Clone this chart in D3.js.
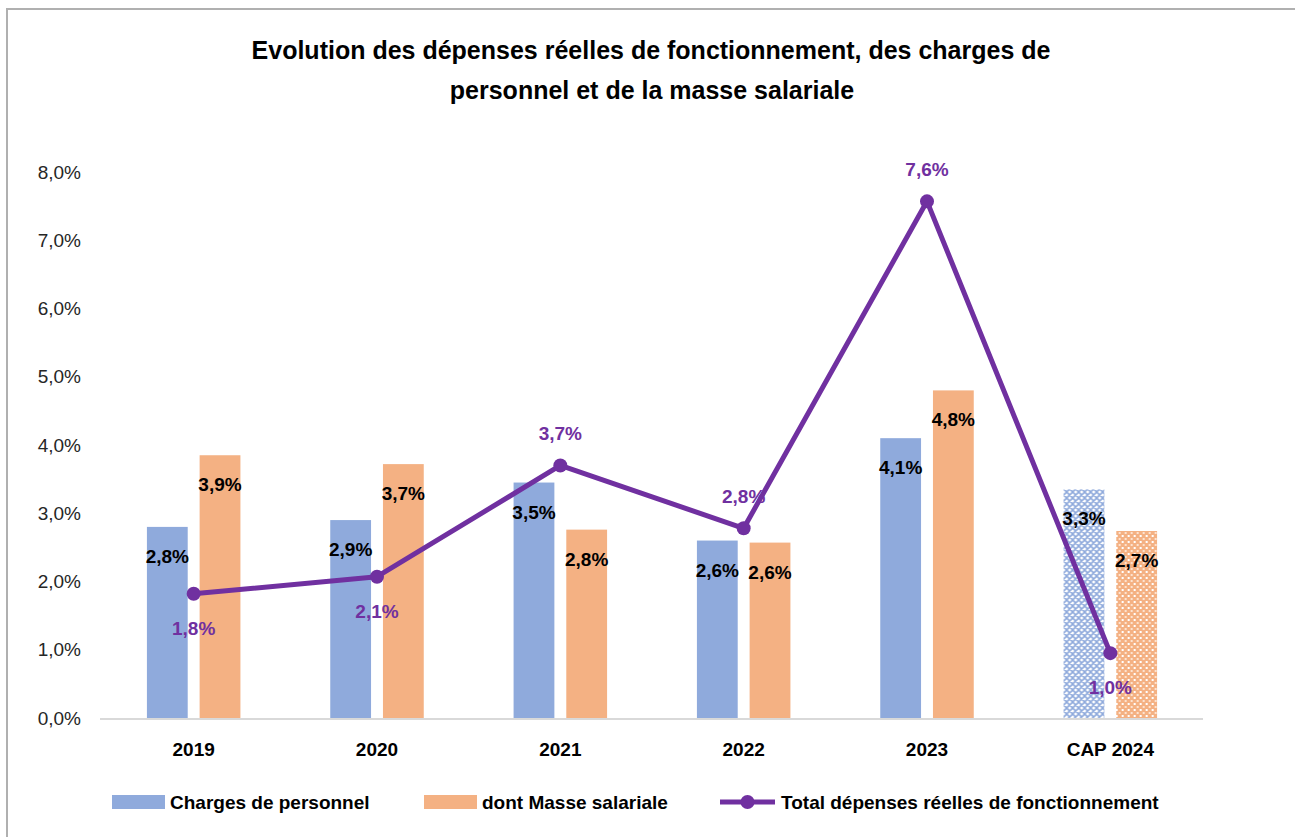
<!DOCTYPE html>
<html>
<head>
<meta charset="utf-8">
<script src="https://cdn.jsdelivr.net/npm/d3@7"></script>
<style>
  body { margin: 0; background: #fff; }
  svg { display: block; font-family: "Liberation Sans", Arial, sans-serif; }
</style>
</head>
<body>
<div id="chart"></div>
<script>
// data
const categories = ['2019', '2020', '2021', '2022', '2023', 'CAP 2024'];
const chargesPersonnel = [2.8, 2.9, 3.45, 2.6, 4.1, 3.35];
const masseSalariale = [3.85, 3.72, 2.76, 2.57, 4.8, 2.74];
const totalDepenses = [1.82, 2.07, 3.7, 2.78, 7.57, 0.95];
const chargesLabels = ['2,8%', '2,9%', '3,5%', '2,6%', '4,1%', '3,3%'];
const masseLabels = ['3,9%', '3,7%', '2,8%', '2,6%', '4,8%', '2,7%'];
const totalLabels = ['1,8%', '2,1%', '3,7%', '2,8%', '7,6%', '1,0%'];
const totalLabelAbove = [false, false, true, true, true, false];
const yTicks = [0, 1, 2, 3, 4, 5, 6, 7, 8];
const seriesNames = ['Charges de personnel', 'dont Masse salariale', 'Total dépenses réelles de fonctionnement'];

const width = 1295;
const height = 837;
const blue = '#8FAADC';
const orange = '#F4B183';
const purple = '#7030A0';
const labelSize = '19px';

const frLocale = d3.formatLocale({ decimal: ',', thousands: ' ', grouping: [3], currency: ['', ' €'] });
const fmt = frLocale.format('.1f');

const svg = d3.select('#chart')
  .append('svg')
  .attr('width', width)
  .attr('height', height);

// patterns for the forecast year
const defs = svg.append('defs');
const pBlue = defs.append('pattern')
  .attr('id', 'hatchBlue')
  .attr('patternUnits', 'userSpaceOnUse')
  .attr('width', 6)
  .attr('height', 6);
pBlue.append('rect').attr('width', 6).attr('height', 6).attr('fill', '#fff');
pBlue.append('path')
  .attr('d', 'M0,0 L6,6 M6,0 L0,6 M-1,5 L1,7 M5,-1 L7,1 M-1,1 L1,-1 M5,7 L7,5')
  .attr('stroke', blue)
  .attr('stroke-width', 1.6);

const pOrange = defs.append('pattern')
  .attr('id', 'dotOrange')
  .attr('patternUnits', 'userSpaceOnUse')
  .attr('width', 6)
  .attr('height', 6);
pOrange.append('rect').attr('width', 6).attr('height', 6).attr('fill', orange);
pOrange.append('rect').attr('x', 1).attr('y', 1).attr('width', 2).attr('height', 2).attr('fill', '#fff');
pOrange.append('rect').attr('x', 4).attr('y', 4).attr('width', 2).attr('height', 2).attr('fill', '#fde3d0');

// frame
svg.append('path')
  .attr('d', `M7,${height} L7,9 L${width},9`)
  .attr('fill', 'none')
  .attr('stroke', '#b0b0b0')
  .attr('stroke-width', 2);

// title
const title = svg.append('text')
  .attr('text-anchor', 'middle')
  .attr('font-weight', 'bold')
  .attr('font-size', '25px')
  .attr('fill', '#000');
title.append('tspan').attr('x', 651).attr('y', 59).text('Evolution des dépenses réelles de fonctionnement, des charges de');
title.append('tspan').attr('x', 652).attr('y', 99).text('personnel et de la masse salariale');

// scales
const x0 = d3.scaleBand()
  .domain(categories)
  .range([102, 1202]);

const x1 = d3.scaleBand()
  .domain(['charges', 'masse'])
  .range([x0.bandwidth() * 0.245, x0.bandwidth() * 0.755])
  .paddingInner(0.226);

const y = d3.scaleLinear()
  .domain([0, 8])
  .range([718, 172]);

// y axis labels
const yAxis = svg.append('g')
  .attr('transform', 'translate(81,0)')
  .call(d3.axisLeft(y).tickValues(yTicks).tickSize(0).tickPadding(0).tickFormat(d => fmt(d) + '%'));
yAxis.select('.domain').remove();
yAxis.selectAll('text')
  .attr('font-family', '"Liberation Sans", Arial, sans-serif')
  .attr('font-size', labelSize)
  .attr('fill', '#262626');

// baseline
svg.append('line')
  .attr('x1', 100)
  .attr('x2', 1203)
  .attr('y1', y(0) + 1)
  .attr('y2', y(0) + 1)
  .attr('stroke', '#d9d9d9')
  .attr('stroke-width', 2);

// x axis labels
const xAxis = svg.append('g')
  .attr('transform', `translate(0,${y(0)})`)
  .call(d3.axisBottom(x0).tickSize(0).tickPadding(25));
xAxis.select('.domain').remove();
xAxis.selectAll('text')
  .attr('font-family', '"Liberation Sans", Arial, sans-serif')
  .attr('font-size', labelSize)
  .attr('font-weight', 'bold')
  .attr('fill', '#000');

const last = categories.length - 1;

// bars
const groups = svg.append('g')
  .selectAll('g')
  .data(categories)
  .join('g')
  .attr('transform', d => `translate(${x0(d)},0)`);

groups.append('rect')
  .attr('x', x1('charges'))
  .attr('width', x1.bandwidth())
  .attr('y', (d, i) => y(chargesPersonnel[i]))
  .attr('height', (d, i) => y(0) - y(chargesPersonnel[i]))
  .attr('fill', (d, i) => i === last ? 'url(#hatchBlue)' : blue);

groups.append('rect')
  .attr('x', x1('masse'))
  .attr('width', x1.bandwidth())
  .attr('y', (d, i) => y(masseSalariale[i]))
  .attr('height', (d, i) => y(0) - y(masseSalariale[i]))
  .attr('fill', (d, i) => i === last ? 'url(#dotOrange)' : orange);

// bar labels
groups.append('text')
  .attr('x', x1('charges') + x1.bandwidth() / 2)
  .attr('y', (d, i) => y(chargesPersonnel[i]) + 36)
  .attr('text-anchor', 'middle')
  .attr('font-weight', 'bold')
  .attr('font-size', labelSize)
  .attr('fill', '#000')
  .text((d, i) => chargesLabels[i]);

groups.append('text')
  .attr('x', x1('masse') + x1.bandwidth() / 2)
  .attr('y', (d, i) => y(masseSalariale[i]) + 36)
  .attr('text-anchor', 'middle')
  .attr('font-weight', 'bold')
  .attr('font-size', labelSize)
  .attr('fill', '#000')
  .text((d, i) => masseLabels[i]);

// line
const cx = d => x0(d) + x0.bandwidth() / 2;
const line = d3.line()
  .x(d => cx(d))
  .y((d, i) => y(totalDepenses[i]));

svg.append('path')
  .datum(categories)
  .attr('d', line)
  .attr('fill', 'none')
  .attr('stroke', purple)
  .attr('stroke-width', 5)
  .attr('stroke-linejoin', 'round');

svg.append('g')
  .selectAll('circle')
  .data(categories)
  .join('circle')
  .attr('cx', d => cx(d))
  .attr('cy', (d, i) => y(totalDepenses[i]))
  .attr('r', 7)
  .attr('fill', purple);

svg.append('g')
  .selectAll('text')
  .data(categories)
  .join('text')
  .attr('x', d => cx(d))
  .attr('y', (d, i) => y(totalDepenses[i]) + (totalLabelAbove[i] ? -25 : 41))
  .attr('text-anchor', 'middle')
  .attr('font-weight', 'bold')
  .attr('font-size', labelSize)
  .attr('fill', purple)
  .text((d, i) => totalLabels[i]);

// legend
const legend = svg.append('g').attr('transform', 'translate(0,802)');
legend.append('rect').attr('x', 112).attr('y', -7).attr('width', 53).attr('height', 14).attr('fill', blue);
legend.append('rect').attr('x', 424).attr('y', -7).attr('width', 53).attr('height', 14).attr('fill', orange);
legend.append('line').attr('x1', 720).attr('x2', 775).attr('y1', 0).attr('y2', 0)
  .attr('stroke', purple).attr('stroke-width', 5);
legend.append('circle').attr('cx', 747.5).attr('cy', 0).attr('r', 7).attr('fill', purple);

const legendX = [170, 482, 781];
legend.selectAll('text.leg')
  .data(seriesNames)
  .join('text')
  .attr('class', 'leg')
  .attr('x', (d, i) => legendX[i])
  .attr('y', 7)
  .attr('font-weight', 'bold')
  .attr('font-size', labelSize)
  .attr('fill', '#000')
  .text(d => d);
</script>
</body>
</html>
